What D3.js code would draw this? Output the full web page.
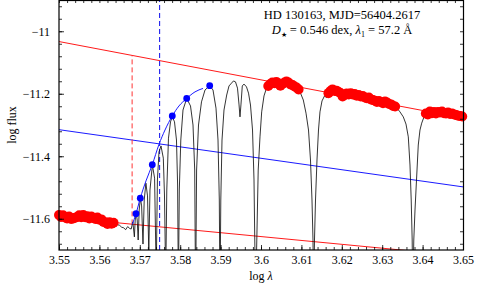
<!DOCTYPE html>
<html>
<head>
<meta charset="utf-8">
<script src="https://cdn.jsdelivr.net/npm/d3@7"></script>
<style>
body { margin: 0; background: #fff; }
svg { display: block; font-family: "Liberation Serif", "DejaVu Serif", serif; }
</style>
</head>
<body>
<svg id="chart" width="479" height="288"></svg>
<script>
// spectrum, [log lambda, log flux], in pieces
var specLeft = [
	[3.5500,-11.588],[3.5505,-11.594],[3.5510,-11.589],[3.5515,-11.596],[3.5520,-11.599],
	[3.5525,-11.593],[3.5530,-11.601],[3.5535,-11.599],[3.5540,-11.597],[3.5545,-11.594],
	[3.5550,-11.589],[3.5555,-11.595],[3.5560,-11.588],[3.5565,-11.595],[3.5570,-11.592],
	[3.5575,-11.599],[3.5580,-11.593],[3.5585,-11.597],[3.5590,-11.601],[3.5595,-11.596],
	[3.5600,-11.603],[3.5605,-11.602],[3.5610,-11.610],[3.5615,-11.611],[3.5620,-11.617],
	[3.5625,-11.611],[3.5630,-11.616],[3.5635,-11.613],[3.5640,-11.617],[3.5645,-11.619],
	[3.5650,-11.621],[3.5655,-11.627],[3.5660,-11.629],[3.5665,-11.635],[3.5670,-11.625],
	[3.5675,-11.631]
];
var specBalmer = [
	[3.56787,-11.633],[3.56827,-11.610],[3.56866,-11.658],[3.56886,-11.604],[3.56911,-11.583],
	[3.56936,-11.604],[3.56960,-11.668],[3.56985,-11.572],[3.57015,-11.534],[3.57045,-11.559],
	[3.57079,-11.681],[3.57109,-11.540],[3.57151,-11.486],[3.57191,-11.527],[3.57223,-11.706],
	[3.57252,-11.508],[3.57312,-11.428],[3.57366,-11.470],[3.57406,-11.780],[3.57436,-11.476],
	[3.57475,-11.386],[3.57525,-11.367],[3.57582,-11.406],[3.57611,-11.524],[3.57641,-11.796],
	[3.57668,-11.508],[3.57710,-11.342],[3.57760,-11.290],[3.57804,-11.273],[3.57859,-11.290],
	[3.57908,-11.348],[3.57936,-11.492],[3.57955,-11.828],[3.57978,-11.508],[3.58015,-11.348],
	[3.58069,-11.252],[3.58161,-11.215],[3.58255,-11.239],[3.58317,-11.300],[3.58359,-11.444],
	[3.58381,-11.860],[3.58406,-11.444],[3.58453,-11.300],[3.58527,-11.226],[3.58614,-11.188],
	[3.58730,-11.174],[3.58812,-11.188],[3.58886,-11.246],[3.58936,-11.348],[3.58968,-11.540],
	[3.58985,-11.860],[3.59005,-11.540],[3.59035,-11.348],[3.59084,-11.252],[3.59151,-11.204],
	[3.59208,-11.175],[3.59270,-11.166],[3.59319,-11.159],[3.59369,-11.162],[3.59418,-11.182],
	[3.59455,-11.233],[3.59480,-11.274],[3.59505,-11.233],[3.59537,-11.175],[3.59579,-11.169],
	[3.59641,-11.178],[3.59691,-11.198],[3.59740,-11.236],[3.59790,-11.316],[3.59827,-11.476],
	[3.59846,-11.668],[3.59866,-11.860],[3.59896,-11.668],[3.59931,-11.444],[3.59975,-11.338],
	[3.60017,-11.258],[3.60074,-11.207],[3.60136,-11.182]
];
var specWin1 = [
	[3.6018,-11.175],[3.6023,-11.169],[3.6028,-11.164],[3.6033,-11.166],[3.6038,-11.162],
	[3.6043,-11.169],[3.6048,-11.174],[3.6053,-11.169],[3.6058,-11.164],[3.6063,-11.161],
	[3.6068,-11.164],[3.6073,-11.170],[3.6078,-11.172],[3.6083,-11.177],[3.6088,-11.180],
	[3.6093,-11.186]
];
var specHdelta = [
	[3.60978,-11.198],[3.61047,-11.220],[3.61114,-11.262],[3.61176,-11.316],[3.61225,-11.412],
	[3.61262,-11.540],[3.61287,-11.668],[3.61302,-11.860],[3.61324,-11.668],[3.61349,-11.540],
	[3.61386,-11.412],[3.61423,-11.316],[3.61460,-11.258],[3.61510,-11.223],[3.61572,-11.207],
	[3.61621,-11.212]
];
var specWin2 = [
	[3.6167,-11.198],[3.6172,-11.191],[3.6177,-11.186],[3.6182,-11.191],[3.6187,-11.190],
	[3.6192,-11.194],[3.6197,-11.198],[3.6202,-11.209],[3.6207,-11.204],[3.6212,-11.199],
	[3.6217,-11.202],[3.6222,-11.198],[3.6227,-11.202],[3.6232,-11.201],[3.6237,-11.206],
	[3.6242,-11.204],[3.6247,-11.209],[3.6252,-11.207],[3.6257,-11.212],[3.6262,-11.214],
	[3.6267,-11.212],[3.6272,-11.218],[3.6277,-11.220],[3.6282,-11.222],[3.6287,-11.226],
	[3.6292,-11.223],[3.6297,-11.226],[3.6302,-11.230],[3.6307,-11.225],[3.6312,-11.228],
	[3.6317,-11.233],[3.6322,-11.234],[3.6327,-11.239],[3.6332,-11.241]
];
var specHgamma = [
	[3.63366,-11.246],[3.63440,-11.258],[3.63522,-11.274],[3.63589,-11.297],[3.63646,-11.338],
	[3.63688,-11.428],[3.63718,-11.540],[3.63742,-11.668],[3.63757,-11.860],[3.63782,-11.668],
	[3.63812,-11.572],[3.63849,-11.476],[3.63893,-11.364],[3.63935,-11.316],[3.63978,-11.294],
	[3.64035,-11.274]
];
var specWin3 = [
	[3.6408,-11.263],[3.6413,-11.266],[3.6418,-11.257],[3.6423,-11.262],[3.6428,-11.258],
	[3.6433,-11.263],[3.6438,-11.258],[3.6443,-11.260],[3.6448,-11.257],[3.6453,-11.262],
	[3.6458,-11.263],[3.6463,-11.260],[3.6468,-11.265],[3.6473,-11.263],[3.6478,-11.266],
	[3.6483,-11.268],[3.6488,-11.270],[3.6493,-11.271],[3.6498,-11.273]
];

// continuum windows (red points)
var contWindows = [[3.5500, 3.5635], [3.6018, 3.6093], [3.6167, 3.6332], [3.6408, 3.6498]];

// fitted lines
var upperLine = [[3.55, -11.033], [3.65, -11.278]];
var lowerLine = [[3.55, -11.595], [3.65, -11.719]];
var midLine = [[3.55, -11.315], [3.65, -11.498]];
var redMark = {x: 3.5681, y0: -11.618, y1: -11.077};
var blueMark = 3.5749;

// envelope of the Balmer peaks
var envCurve = [
	[3.56814,-11.618],[3.56906,-11.584],[3.57012,-11.534],[3.57153,-11.479],[3.57309,-11.427],
	[3.57475,-11.362],[3.57624,-11.316],[3.57804,-11.271],[3.57970,-11.239],[3.58161,-11.215],
	[3.58366,-11.194],[3.58564,-11.183]
];
var envDots = [
	[3.56906,-11.584],[3.57012,-11.534],[3.57309,-11.427],[3.57804,-11.271],[3.58161,-11.215],
	[3.58730,-11.174]
];

var xTicks = [3.55, 3.56, 3.57, 3.58, 3.59, 3.6, 3.61, 3.62, 3.63, 3.64, 3.65];
var yTicks = [-11.6, -11.4, -11.2, -11];

var spectrum = [].concat(specLeft, specBalmer, specWin1, specHdelta, specWin2, specHgamma, specWin3);

var pLeft = 59, pRight = 463, pTop = 0, pBottom = 250;

var x = d3.scaleLinear().domain([3.55, 3.65]).range([pLeft, pRight]);
var y = d3.scaleLinear().domain([-11.7, -10.9]).range([pBottom, pTop]);

var svg = d3.select("#chart");

svg.append("clipPath")
	.attr("id", "clip")
	.append("rect")
	.attr("x", pLeft)
	.attr("y", pTop)
	.attr("width", pRight - pLeft)
	.attr("height", pBottom - pTop);

var line = d3.line()
	.x(function(d) { return x(d[0]); })
	.y(function(d) { return y(d[1]); });

var plot = svg.append("g").attr("clip-path", "url(#clip)");

plot.append("path").datum(upperLine)
	.attr("d", line).attr("fill", "none").attr("stroke", "#ff1a1a").attr("stroke-width", 1);
plot.append("path").datum(lowerLine)
	.attr("d", line).attr("fill", "none").attr("stroke", "#ff1a1a").attr("stroke-width", 1);
plot.append("path").datum(midLine)
	.attr("d", line).attr("fill", "none").attr("stroke", "#1a1aff").attr("stroke-width", 1);

plot.append("line")
	.attr("x1", x(redMark.x)).attr("x2", x(redMark.x))
	.attr("y1", y(redMark.y0)).attr("y2", y(redMark.y1))
	.attr("stroke", "#ff3333").attr("stroke-width", 1).attr("stroke-dasharray", "5,3");
plot.append("line")
	.attr("x1", x(blueMark)).attr("x2", x(blueMark))
	.attr("y1", pBottom).attr("y2", pTop)
	.attr("stroke", "#2222ee").attr("stroke-width", 1.1).attr("stroke-dasharray", "5,3");

// red continuum points
var inWin = spectrum.filter(function(d) {
	return contWindows.some(function(w) { return d[0] >= w[0] - 1e-6 && d[0] <= w[1] + 1e-6; });
});
svg.append("g").selectAll("circle")
	.data(inWin)
	.enter().append("circle")
	.attr("cx", function(d) { return x(d[0]); })
	.attr("cy", function(d) { return y(d[1]); })
	.attr("r", 5)
	.attr("fill", "#f00");

plot.append("path").datum(spectrum)
	.attr("d", line)
	.attr("fill", "none")
	.attr("stroke", "#111")
	.attr("stroke-width", 0.85);

plot.append("path").datum(envCurve)
	.attr("d", line.curve(d3.curveMonotoneX))
	.attr("fill", "none")
	.attr("stroke", "#1a1aff")
	.attr("stroke-width", 1);

svg.append("g").selectAll("circle")
	.data(envDots)
	.enter().append("circle")
	.attr("cx", function(d) { return x(d[0]); })
	.attr("cy", function(d) { return y(d[1]); })
	.attr("r", 3.4)
	.attr("fill", "#0000ff");

// axes, ticks inward
var xMinor = d3.range(0, 51).map(function(i) { return 3.55 + i * 0.002; });
var yMinor = d3.range(0, 20).map(function(i) { return -11.68 + i * 0.04; });

function styleAxis(g) {
	g.select(".domain").remove();
	g.selectAll("line").attr("stroke", "#000").attr("stroke-width", 0.8);
	g.selectAll("text").attr("font-size", 12).attr("fill", "#000");
	g.attr("font-family", null).attr("font-size", null);
}

svg.append("g").attr("transform", "translate(0," + pBottom + ")")
	.call(d3.axisBottom(x).tickValues(xTicks).tickSize(-5).tickPadding(5).tickFormat(function(d) { return String(d); }))
	.call(styleAxis);
svg.append("g").attr("transform", "translate(0," + pBottom + ")")
	.call(d3.axisBottom(x).tickValues(xMinor).tickSize(-3).tickFormat(""))
	.call(styleAxis);
svg.append("g").attr("transform", "translate(0," + pTop + ")")
	.call(d3.axisTop(x).tickValues(xMinor).tickSize(-3).tickFormat(""))
	.call(styleAxis);

svg.append("g").attr("transform", "translate(" + pLeft + ",0)")
	.call(d3.axisLeft(y).tickValues(yTicks).tickSize(-5).tickPadding(9).tickFormat(d3.format("")))
	.call(styleAxis);
svg.append("g").attr("transform", "translate(" + pLeft + ",0)")
	.call(d3.axisLeft(y).tickValues(yMinor).tickSize(-3).tickFormat(""))
	.call(styleAxis);
svg.append("g").attr("transform", "translate(" + pRight + ",0)")
	.call(d3.axisRight(y).tickValues(yMinor).tickSize(-3).tickFormat(""))
	.call(styleAxis);

svg.append("rect")
	.attr("x", pLeft)
	.attr("y", pTop + 0.5)
	.attr("width", pRight - pLeft + 0.5)
	.attr("height", pBottom - pTop - 0.5)
	.attr("fill", "none")
	.attr("stroke", "#000")
	.attr("stroke-width", 1.2);

// labels
svg.append("text")
	.attr("transform", "translate(16," + ((pTop + pBottom) / 2) + ") rotate(-90)")
	.attr("text-anchor", "middle")
	.attr("font-size", 12)
	.text("log flux");

var xl = svg.append("text")
	.attr("x", (pLeft + pRight) / 2)
	.attr("y", 280)
	.attr("text-anchor", "middle")
	.attr("font-size", 12);
xl.append("tspan").text("log ");
xl.append("tspan").attr("font-style", "italic").text("λ");

svg.append("text")
	.attr("x", 342)
	.attr("y", 19)
	.attr("text-anchor", "middle")
	.attr("font-size", 12.5)
	.text("HD 130163, MJD=56404.2617");

var t2 = svg.append("text")
	.attr("x", 342)
	.attr("y", 34)
	.attr("text-anchor", "middle")
	.attr("font-size", 12.5);
t2.append("tspan").attr("font-style", "italic").text("D");
t2.append("tspan").attr("font-size", 7).attr("dy", 3).text("★");
t2.append("tspan").attr("dy", -3).text(" = 0.546 dex, ");
t2.append("tspan").attr("font-style", "italic").text("λ");
t2.append("tspan").attr("font-size", 8).attr("dy", 3).text("1");
t2.append("tspan").attr("dy", -3).text(" = 57.2 Å");
</script>
</body>
</html>
